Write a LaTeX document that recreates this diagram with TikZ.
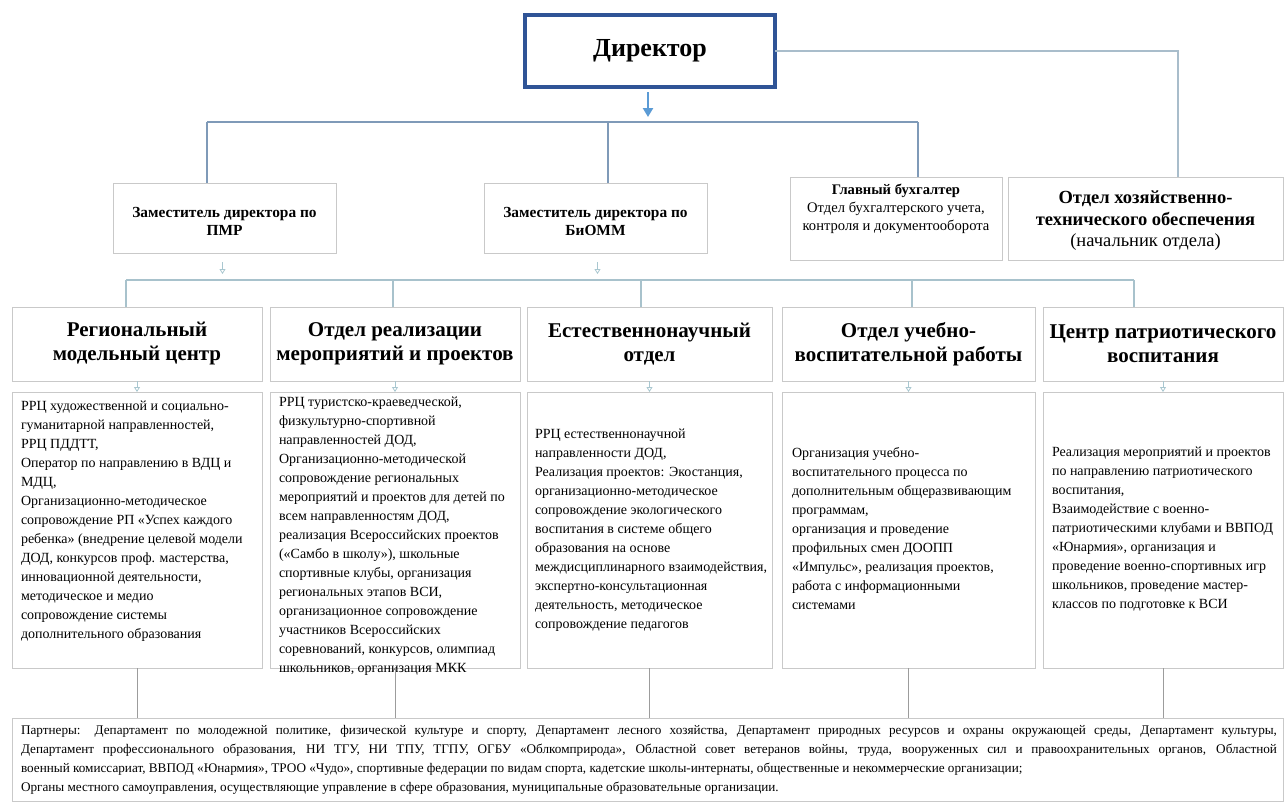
\documentclass[tikz,border=0pt]{standalone}
\usepackage{fontspec}
\setmainfont{Liberation Serif}
\usetikzlibrary{arrows.meta}
\definecolor{dirblue}{HTML}{2F5496}
\definecolor{busblue}{HTML}{7F9AB8}
\definecolor{lightline}{HTML}{A9BDCB}
\definecolor{arrowblue}{HTML}{5B9BD5}
\definecolor{tealline}{HTML}{A8C2CC}
\definecolor{hollowc}{HTML}{A9C7D0}
\definecolor{boxgray}{HTML}{C9C9C9}
\definecolor{botline}{HTML}{9C9C9C}
\begin{document}
\begin{tikzpicture}[x=1pt,y=-1pt,
  every node/.style={inner sep=0pt, outer sep=0pt},
  dirbox/.style={draw=dirblue, line width=3.5pt, fill=white, minimum width=250pt, minimum height=72pt, font=\fontsize{26}{30}\selectfont\bfseries},
  box/.style={draw=boxgray, line width=0.9pt, fill=white},
  zamtext/.style={align=center, font=\fontsize{15.4}{18}\selectfont\bfseries},
  headtext/.style={align=center, font=\fontsize{21}{24}\selectfont\bfseries},
  desctext/.style={align=left, font=\fontsize{14}{19}\selectfont, anchor=north west},
  busline/.style={draw=busblue, line width=1.1pt},
  thinline/.style={draw=lightline, line width=1.1pt},
  tealbus/.style={draw=tealline, line width=1.1pt},
  botconn/.style={draw=botline, line width=0.9pt},
  hollow/.style={draw=hollowc, line width=0.8pt, -{Triangle[open, length=5pt, width=6pt]}}
]
\fill[white] (0,0) rectangle (1285,803);
\useasboundingbox (0,0) rectangle (1285,803);

% Director
\node[dirbox] (dir) at (650,51) {Директор};

% Row 2
\node[box, minimum width=223pt, minimum height=70pt] (zam1) at (224.5,218) {};
\node[zamtext] (zam1t) at (224.5,221) {Заместитель директора по\\ПМР};
\node[box, minimum width=223pt, minimum height=70pt] (zam2) at (595.5,218) {};
\node[zamtext] (zam2t) at (595.5,221) {Заместитель директора по\\БиОММ};
\node[box, minimum width=212pt, minimum height=83pt] (buh) at (896,218.5) {};
\node[align=center, font=\fontsize{14.6}{18}\selectfont] (buht) at (896,209) {\textbf{Главный бухгалтер}\\Отдел бухгалтерского учета,\\контроля и документооборота};
\node[box, minimum width=275pt, minimum height=83pt] (hoz) at (1145.5,218.5) {};
\node[align=center, font=\fontsize{18.5}{21.5}\selectfont] (hozt) at (1145.5,221) {\textbf{Отдел хозяйственно-}\\\textbf{технического обеспечения}\\(начальник отдела)};

% Director connectors
\draw[arrowblue, line width=2.4pt, -{Triangle[length=9pt, width=10pt]}] ([xshift=-2pt, yshift=-5pt]dir.south) -- ++(0,25);
\coordinate (b1l) at (207,122);
\coordinate (b1m) at (608,122);
\coordinate (b1r) at (918,122);
\draw[busline] (b1l) -- (b1r);
\draw[busline] (b1l) -- (b1l |- zam1.north);
\draw[busline] (b1m) -- (b1m |- zam2.north);
\draw[busline] (b1r) -- (b1r |- buh.north);
\draw[thinline] (dir.east) -| ([xshift=32.5pt]hoz.north);

% hollow arrows under deputies
\draw[hollow] ([xshift=-2pt, yshift=-9pt]zam1.south) -- ++(0,12);
\draw[hollow] ([xshift=2pt, yshift=-9pt]zam2.south) -- ++(0,12);

% Row 3 headers
\node[box, minimum width=250pt, minimum height=74pt] (h1) at (137,344) {};
\node[headtext] (h1t) at (137,344) {Региональный\\модельный центр};
\node[box, minimum width=250pt, minimum height=74pt] (h2) at (395,344) {};
\node[headtext] (h2t) at (395,344) {Отдел реализации\\мероприятий и проектов};
\node[box, minimum width=245pt, minimum height=74pt] (h3) at (649.5,344) {};
\node[headtext] (h3t) at (649.5,344) {Естественнонаучный\\отдел};
\node[box, minimum width=253pt, minimum height=74pt] (h4) at (908.5,344) {};
\node[headtext] (h4t) at (908.5,344) {Отдел учебно-\\воспитательной работы};
\node[box, minimum width=240pt, minimum height=74pt] (h5) at (1163,344) {};
\node[headtext] (h5t) at (1163,344) {Центр патриотического\\воспитания};

% Row 3 bus
\coordinate (b2a) at (126,280);
\coordinate (b2b) at (393,280);
\coordinate (b2c) at (641,280);
\coordinate (b2d) at (912,280);
\coordinate (b2e) at (1134,280);
\draw[tealbus] (b2a) -- (b2e);
\foreach \c/\h in {b2a/h1, b2b/h2, b2c/h3, b2d/h4, b2e/h5}
  \draw[tealbus] (\c) -- (\c |- \h.north);

% Description boxes
\node[box, minimum width=250pt, minimum height=276pt] (d1) at (137,530) {};
\node[box, minimum width=250pt, minimum height=276pt] (d2) at (395,530) {};
\node[box, minimum width=245pt, minimum height=276pt] (d3) at (649.5,530) {};
\node[box, minimum width=253pt, minimum height=276pt] (d4) at (908.5,530) {};
\node[box, minimum width=240pt, minimum height=276pt] (d5) at (1163,530) {};

\foreach \h/\d in {h1/d1, h2/d2, h3/d3, h4/d4, h5/d5}
  \draw[hollow] (\h.south) -- (\d.north);

\node[desctext] (d1t) at (21,401) {РРЦ художественной и социально-\\гуманитарной направленностей,\\РРЦ ПДДТТ,\\Оператор по направлению в ВДЦ и\\МДЦ,\\Организационно-методическое\\сопровождение РП «Успех каждого\\ребенка» (внедрение целевой модели\\ДОД, конкурсов проф. мастерства,\\инновационной деятельности,\\методическое и медио\\сопровождение системы\\дополнительного образования};
\node[desctext] (d2t) at (279,397) {РРЦ туристско-краеведческой,\\физкультурно-спортивной\\направленностей ДОД,\\Организационно-методической\\сопровождение региональных\\мероприятий и проектов для детей по\\всем направленностям ДОД,\\реализация Всероссийских проектов\\(«Самбо в школу»), школьные\\спортивные клубы, организация\\региональных этапов ВСИ,\\организационное сопровождение\\участников Всероссийских\\соревнований, конкурсов, олимпиад\\школьников, организация МКК};
\node[desctext] (d3t) at (535,429) {РРЦ естественнонаучной\\направленности ДОД,\\Реализация проектов: Экостанция,\\организационно-методическое\\сопровождение экологического\\воспитания в системе общего\\образования на основе\\междисциплинарного взаимодействия,\\экспертно-консультационная\\деятельность, методическое\\сопровождение педагогов};
\node[desctext] (d4t) at (792,447) {Организация учебно-\\воспитательного процесса по\\дополнительным общеразвивающим\\программам,\\организация и проведение\\профильных смен ДООПП\\«Импульс», реализация проектов,\\работа с информационными\\системами};
\node[desctext] (d5t) at (1052,447) {Реализация мероприятий и проектов\\по направлению патриотического\\воспитания,\\Взаимодействие с военно-\\патриотическими клубами и ВВПОД\\«Юнармия», организация и\\проведение военно-спортивных игр\\школьников, проведение мастер-\\классов по подготовке к ВСИ};

% Partners
\node[box, minimum width=1271pt, minimum height=83pt] (part) at (647.5,759.5) {};
\foreach \d in {d1,d2,d3,d4,d5}
  \draw[botconn] (\d.south) -- (\d.south |- part.north);
\node[anchor=north west, text width=1256pt, align=justify, font=\fontsize{13.2}{19}\selectfont] (partt) at (21,725) {Партнеры: Департамент по молодежной политике, физической культуре и спорту, Департамент лесного хозяйства, Департамент природных ресурсов и охраны окружающей среды, Департамент культуры,\linebreak Департамент профессионального образования, НИ ТГУ, НИ ТПУ, ТГПУ, ОГБУ «Облкомприрода», Областной совет ветеранов войны, труда, вооруженных сил и правоохранительных органов, Областной\linebreak военный комиссариат, ВВПОД «Юнармия», ТРОО «Чудо», спортивные федерации по видам спорта, кадетские школы-интернаты, общественные и некоммерческие организации;\\Органы местного самоуправления, осуществляющие управление в сфере образования, муниципальные образовательные организации.};
\end{tikzpicture}
\end{document}
